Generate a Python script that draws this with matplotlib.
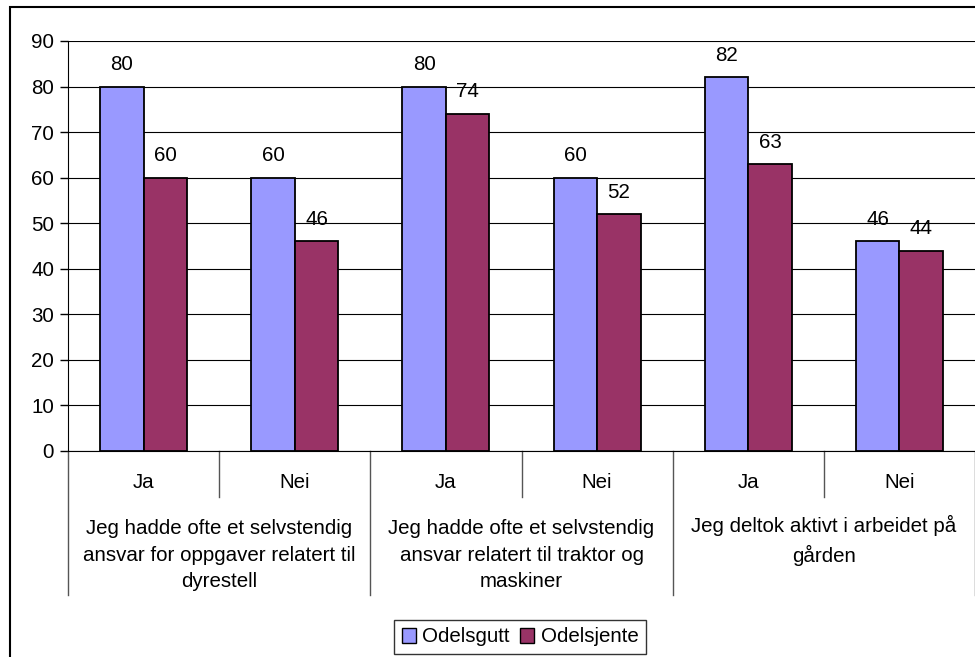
import matplotlib.pyplot as plt
from matplotlib.patches import Rectangle, Patch

plt.rcParams['font.family'] = ['Liberation Sans', 'DejaVu Sans']

groups = ["Jeg hadde ofte et selvstendig\nansvar for oppgaver relatert til\ndyrestell",
          "Jeg hadde ofte et selvstendig\nansvar relatert til traktor og\nmaskiner",
          "Jeg deltok aktivt i arbeidet på\ngården"]
subs = ["Ja", "Nei", "Ja", "Nei", "Ja", "Nei"]
odelsgutt = [80, 60, 80, 60, 82, 46]
odelsjente = [60, 46, 74, 52, 63, 44]

fs = 14.8

fig = plt.figure(figsize=(9.75, 6.57), dpi=100)
# outer chart border
fig.patches.append(Rectangle((10 / 975, -0.1), 1.0, 1 - 7 / 657 + 0.1, transform=fig.transFigure,
                             fill=False, edgecolor="black", linewidth=1.5))

ax = fig.add_axes([68 / 975, 1 - 451 / 657, 1 - 68 / 975, 410 / 657])

x = list(range(len(subs)))
w = 0.288
b1 = ax.bar([i - w / 2 for i in x], odelsgutt, width=w, color="#9999FF", edgecolor="black", linewidth=1.3, zorder=3)
b2 = ax.bar([i + w / 2 for i in x], odelsjente, width=w, color="#993366", edgecolor="black", linewidth=1.3, zorder=3)

for bars, vals in [(b1, odelsgutt), (b2, odelsjente)]:
    for r, v in zip(bars, vals):
        ax.annotate(str(v), (r.get_x() + r.get_width() / 2, v), xytext=(0, 9), textcoords="offset points",
                    ha="center", va="bottom", fontsize=fs)

ax.set_xlim(-0.5, 5.5)
ax.set_ylim(0, 90)
ax.set_yticks(range(0, 91, 10))
ax.tick_params(axis="y", labelsize=fs, length=6, width=1, direction="out", pad=4)
ax.set_xticks([])
ax.yaxis.grid(True, color="black", linewidth=0.8)
ax.set_axisbelow(True)
for s in ["top", "right"]:
    ax.spines[s].set_visible(False)
ax.spines["left"].set_color("black")
ax.spines["bottom"].set_color("black")

# multi-level category axis
for i, s in enumerate(subs):
    ax.text(i, -0.076, s, transform=ax.get_xaxis_transform(), ha="center", va="center", fontsize=fs)
for i in [0.5, 2.5, 4.5]:
    ax.plot([i, i], [0, -0.112], transform=ax.get_xaxis_transform(), color="#555555", linewidth=1, clip_on=False)
for i in [-0.5, 1.5, 3.5, 5.5]:
    ax.plot([i, i], [0, -0.351], transform=ax.get_xaxis_transform(), color="#555555", linewidth=1, clip_on=False)
for g, lab in enumerate(groups):
    ax.text(2 * g + 0.5, -0.254 if g < 2 else -0.218, lab, transform=ax.get_xaxis_transform(),
            ha="center", va="center", fontsize=fs, linespacing=1.5)

handles = [Patch(facecolor="#9999FF", edgecolor="black", label="Odelsgutt"),
           Patch(facecolor="#993366", edgecolor="black", label="Odelsjente")]
leg = fig.legend(handles=handles, loc="center", bbox_to_anchor=(520 / 975, 1 - 637 / 657), ncol=2,
                 fontsize=fs, frameon=True, fancybox=False, edgecolor="black", handlelength=0.7,
                 handleheight=0.7, handletextpad=0.3, columnspacing=0.5, borderpad=0.35, borderaxespad=0)
leg.get_frame().set_linewidth(1)

fig.savefig("out.png", dpi=100)
